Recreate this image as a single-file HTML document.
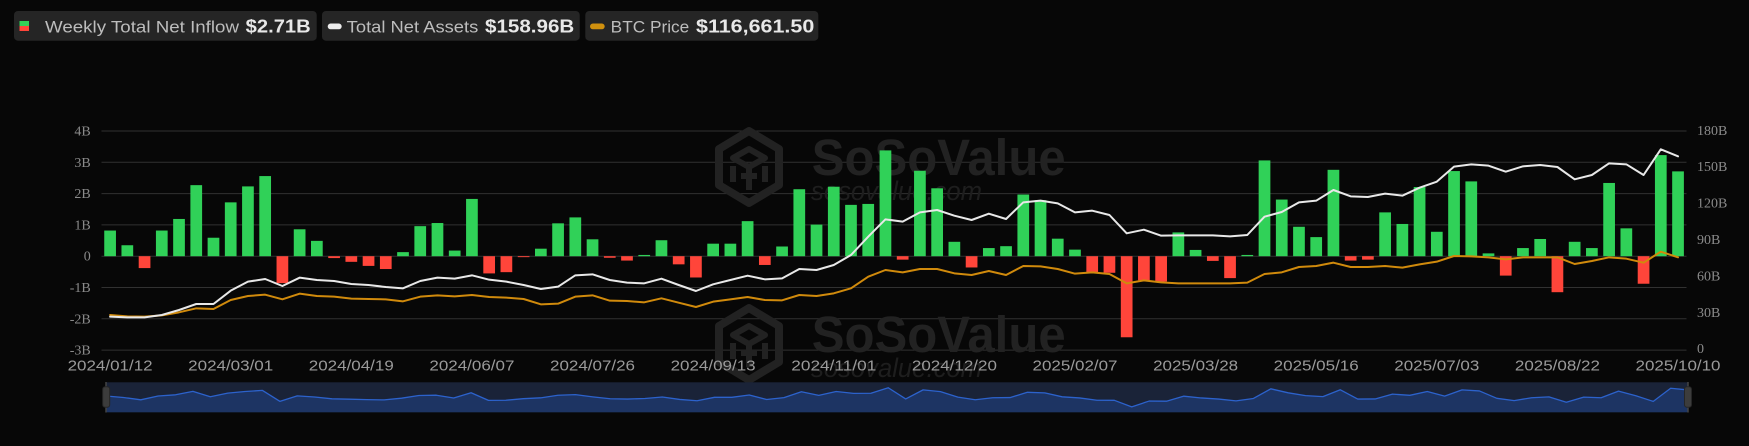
<!DOCTYPE html>
<html>
<head>
<meta charset="utf-8">
<style>
  html,body{margin:0;padding:0;background:#070707;}
  body{width:1749px;height:446px;overflow:hidden;}
  svg{display:block;}
  .hl{font-family:"Liberation Sans",sans-serif;font-size:17px;fill:#bdbdbd;}
  .hv{font-family:"Liberation Sans",sans-serif;font-size:18px;font-weight:bold;fill:#e8e8e8;}
  .yl{font-family:"Liberation Serif",serif;font-size:14px;fill:#8a8a8a;}
  .xl{font-family:"Liberation Sans",sans-serif;font-size:15px;fill:#9a9a9a;}
</style>
</head>
<body>
<svg width="1749" height="446" viewBox="0 0 1749 446" xmlns="http://www.w3.org/2000/svg">
  <rect x="0" y="0" width="1749" height="446" fill="#070707"/>

  <!-- Header legend boxes -->
  <rect x="14" y="11" width="302.7" height="29.7" rx="4" fill="#252525"/>
  <rect x="322" y="11" width="257.7" height="29.7" rx="4" fill="#252525"/>
  <rect x="585.3" y="11" width="233" height="29.7" rx="4" fill="#252525"/>

  <rect x="19.5" y="21" width="9.5" height="5" fill="#30d158"/>
  <rect x="19.5" y="26" width="9.5" height="5" fill="#ff453a"/>
  <text class="hl" x="45" y="32.3" textLength="194" lengthAdjust="spacingAndGlyphs">Weekly Total Net Inflow</text>
  <text class="hv" x="245.7" y="32.3" textLength="65" lengthAdjust="spacingAndGlyphs">$2.71B</text>

  <rect x="327.7" y="23.5" width="14" height="5.8" rx="2.9" fill="#ececec"/>
  <text class="hl" x="346.7" y="32.3" textLength="131.6" lengthAdjust="spacingAndGlyphs">Total Net Assets</text>
  <text class="hv" x="485" y="32.3" textLength="89.3" lengthAdjust="spacingAndGlyphs">$158.96B</text>

  <rect x="590" y="23.5" width="14.7" height="5.8" rx="2.9" fill="#d0900e"/>
  <text class="hl" x="610.7" y="32.3" textLength="78.6" lengthAdjust="spacingAndGlyphs">BTC Price</text>
  <text class="hv" x="696" y="32.3" textLength="118.3" lengthAdjust="spacingAndGlyphs">$116,661.50</text>

  <!-- Grid lines -->
  <g stroke="#313131" stroke-width="1">
    <line x1="101.5" y1="131" x2="1686.5" y2="131"/>
    <line x1="101.5" y1="162.3" x2="1686.5" y2="162.3"/>
    <line x1="101.5" y1="193.6" x2="1686.5" y2="193.6"/>
    <line x1="101.5" y1="224.9" x2="1686.5" y2="224.9"/>
    <line x1="101.5" y1="256.2" x2="1686.5" y2="256.2"/>
    <line x1="101.5" y1="287.5" x2="1686.5" y2="287.5"/>
    <line x1="101.5" y1="318.8" x2="1686.5" y2="318.8"/>
    <line x1="101.5" y1="350.1" x2="1686.5" y2="350.1"/>
  </g>

  <!-- Watermarks -->
  <g id="wm" fill="none" stroke="#222" stroke-linejoin="round">
    <polygon points="749,131 779,149 779,185 749,203 719,185 719,149" stroke-width="8"/>
    <path d="M733,158 L749,149 L765,158 L749,167 Z M749,167 L749,190 M733,166 L733,182 M765,166 L765,182 M741,176 L757,176" stroke-width="6"/>
    <text x="811.7" y="175" textLength="254" lengthAdjust="spacingAndGlyphs" font-family="Liberation Sans, sans-serif" font-size="51" font-weight="bold" fill="#222" stroke="none">SoSoValue</text>
    <text x="811" y="200" textLength="171" lengthAdjust="spacingAndGlyphs" font-family="Liberation Sans, sans-serif" font-size="27" font-style="italic" fill="#1e1e1e" stroke="none">sosovalue.com</text>
  </g>
  <g transform="translate(0,177)" fill="none" stroke="#222" stroke-linejoin="round">
    <polygon points="749,131 779,149 779,185 749,203 719,185 719,149" stroke-width="8"/>
    <path d="M733,158 L749,149 L765,158 L749,167 Z M749,167 L749,190 M733,166 L733,182 M765,166 L765,182 M741,176 L757,176" stroke-width="6"/>
    <text x="811.7" y="175" textLength="254" lengthAdjust="spacingAndGlyphs" font-family="Liberation Sans, sans-serif" font-size="51" font-weight="bold" fill="#222" stroke="none">SoSoValue</text>
    <text x="811" y="200" textLength="171" lengthAdjust="spacingAndGlyphs" font-family="Liberation Sans, sans-serif" font-size="27" font-style="italic" fill="#1e1e1e" stroke="none">sosovalue.com</text>
  </g>

  <!-- Bars -->
  <g transform="translate(110.1,256.2) scale(17.23,-31.3)">
    <g fill="#30d158">
      <rect x="-0.34" y="0" width="0.68" height="0.82"/>
      <rect x="0.66" y="0" width="0.68" height="0.35"/>
      <rect x="2.66" y="0" width="0.68" height="0.82"/>
      <rect x="3.66" y="0" width="0.68" height="1.19"/>
      <rect x="4.66" y="0" width="0.68" height="2.27"/>
      <rect x="5.66" y="0" width="0.68" height="0.59"/>
      <rect x="6.66" y="0" width="0.68" height="1.72"/>
      <rect x="7.66" y="0" width="0.68" height="2.23"/>
      <rect x="8.66" y="0" width="0.68" height="2.56"/>
      <rect x="10.66" y="0" width="0.68" height="0.86"/>
      <rect x="11.66" y="0" width="0.68" height="0.49"/>
      <rect x="16.66" y="0" width="0.68" height="0.13"/>
      <rect x="17.66" y="0" width="0.68" height="0.96"/>
      <rect x="18.66" y="0" width="0.68" height="1.06"/>
      <rect x="19.66" y="0" width="0.68" height="0.18"/>
      <rect x="20.66" y="0" width="0.68" height="1.83"/>
      <rect x="24.66" y="0" width="0.68" height="0.24"/>
      <rect x="25.66" y="0" width="0.68" height="1.05"/>
      <rect x="26.66" y="0" width="0.68" height="1.24"/>
      <rect x="27.66" y="0" width="0.68" height="0.54"/>
      <rect x="30.66" y="0" width="0.68" height="0.04"/>
      <rect x="31.66" y="0" width="0.68" height="0.51"/>
      <rect x="34.66" y="0" width="0.68" height="0.40"/>
      <rect x="35.66" y="0" width="0.68" height="0.40"/>
      <rect x="36.66" y="0" width="0.68" height="1.12"/>
      <rect x="38.66" y="0" width="0.68" height="0.31"/>
      <rect x="39.66" y="0" width="0.68" height="2.14"/>
      <rect x="40.66" y="0" width="0.68" height="1.01"/>
      <rect x="41.66" y="0" width="0.68" height="2.22"/>
      <rect x="42.66" y="0" width="0.68" height="1.64"/>
      <rect x="43.66" y="0" width="0.68" height="1.67"/>
      <rect x="44.66" y="0" width="0.68" height="3.38"/>
      <rect x="46.66" y="0" width="0.68" height="2.73"/>
      <rect x="47.66" y="0" width="0.68" height="2.17"/>
      <rect x="48.66" y="0" width="0.68" height="0.46"/>
      <rect x="50.66" y="0" width="0.68" height="0.26"/>
      <rect x="51.66" y="0" width="0.68" height="0.32"/>
      <rect x="52.66" y="0" width="0.68" height="1.97"/>
      <rect x="53.66" y="0" width="0.68" height="1.79"/>
      <rect x="54.66" y="0" width="0.68" height="0.56"/>
      <rect x="55.66" y="0" width="0.68" height="0.21"/>
      <rect x="61.66" y="0" width="0.68" height="0.76"/>
      <rect x="62.66" y="0" width="0.68" height="0.20"/>
      <rect x="65.66" y="0" width="0.68" height="0.04"/>
      <rect x="66.66" y="0" width="0.68" height="3.06"/>
      <rect x="67.66" y="0" width="0.68" height="1.81"/>
      <rect x="68.66" y="0" width="0.68" height="0.94"/>
      <rect x="69.66" y="0" width="0.68" height="0.61"/>
      <rect x="70.66" y="0" width="0.68" height="2.76"/>
      <rect x="73.66" y="0" width="0.68" height="1.40"/>
      <rect x="74.66" y="0" width="0.68" height="1.03"/>
      <rect x="75.66" y="0" width="0.68" height="2.21"/>
      <rect x="76.66" y="0" width="0.68" height="0.78"/>
      <rect x="77.66" y="0" width="0.68" height="2.72"/>
      <rect x="78.66" y="0" width="0.68" height="2.39"/>
      <rect x="79.66" y="0" width="0.68" height="0.09"/>
      <rect x="81.66" y="0" width="0.68" height="0.26"/>
      <rect x="82.66" y="0" width="0.68" height="0.55"/>
      <rect x="84.66" y="0" width="0.68" height="0.46"/>
      <rect x="85.66" y="0" width="0.68" height="0.26"/>
      <rect x="86.66" y="0" width="0.68" height="2.34"/>
      <rect x="87.66" y="0" width="0.68" height="0.89"/>
      <rect x="89.66" y="0" width="0.68" height="3.23"/>
      <rect x="90.66" y="0" width="0.68" height="2.71"/>
    </g>
    <g fill="#ff453a">
      <rect x="1.66" y="-0.38" width="0.68" height="0.38"/>
      <rect x="9.66" y="-0.86" width="0.68" height="0.86"/>
      <rect x="12.66" y="-0.06" width="0.68" height="0.06"/>
      <rect x="13.66" y="-0.18" width="0.68" height="0.18"/>
      <rect x="14.66" y="-0.31" width="0.68" height="0.31"/>
      <rect x="15.66" y="-0.41" width="0.68" height="0.41"/>
      <rect x="21.66" y="-0.55" width="0.68" height="0.55"/>
      <rect x="22.66" y="-0.51" width="0.68" height="0.51"/>
      <rect x="23.66" y="-0.03" width="0.68" height="0.03"/>
      <rect x="28.66" y="-0.05" width="0.68" height="0.05"/>
      <rect x="29.66" y="-0.14" width="0.68" height="0.14"/>
      <rect x="32.66" y="-0.26" width="0.68" height="0.26"/>
      <rect x="33.66" y="-0.68" width="0.68" height="0.68"/>
      <rect x="37.66" y="-0.28" width="0.68" height="0.28"/>
      <rect x="45.66" y="-0.11" width="0.68" height="0.11"/>
      <rect x="49.66" y="-0.36" width="0.68" height="0.36"/>
      <rect x="56.66" y="-0.51" width="0.68" height="0.51"/>
      <rect x="57.66" y="-0.53" width="0.68" height="0.53"/>
      <rect x="58.66" y="-2.59" width="0.68" height="2.59"/>
      <rect x="59.66" y="-0.77" width="0.68" height="0.77"/>
      <rect x="60.66" y="-0.81" width="0.68" height="0.81"/>
      <rect x="63.66" y="-0.15" width="0.68" height="0.15"/>
      <rect x="64.66" y="-0.70" width="0.68" height="0.70"/>
      <rect x="71.66" y="-0.14" width="0.68" height="0.14"/>
      <rect x="72.66" y="-0.11" width="0.68" height="0.11"/>
      <rect x="80.66" y="-0.62" width="0.68" height="0.62"/>
      <rect x="83.66" y="-1.15" width="0.68" height="1.15"/>
      <rect x="88.66" y="-0.88" width="0.68" height="0.88"/>
    </g>
  </g>

  <!-- Lines -->
  <g transform="translate(110.1,115) scale(17.23,0.333333)" fill="none" stroke-linejoin="round" stroke-linecap="round">
    <polyline vector-effect="non-scaling-stroke" stroke="#d08a0c" stroke-width="2"
      points="0,600 1,604 2,605 3,601 4,592 5,580 6,582 7,555 8,543 9,539 10,553 11,536 12,543 13,545 14,551 15,552 16,553 17,559 18,545 19,541 20,544 21,540 22,546 23,548 24,552 25,568 26,566 27,545 28,541 29,557 30,558 31,562 32,550 33,563 34,576 35,560 36,553 37,546 38,555 39,556 40,540 41,543 42,535 43,520 44,485 45,465 46,472 47,462 48,462 49,475 50,480 51,468 52,480 53,453 54,454 55,462 56,476 57,472 58,477 59,505 60,496 61,502 62,505 63,505 64,505 65,505 66,503 67,477 68,472 69,456 70,453 71,443 72,456 73,456 74,453 75,458 76,448 77,440 78,423 79,424 80,427 81,433 82,427 83,427 84,427 85,447 86,438 87,427 88,431 89,443 90,410 91,427"/>
    <polyline vector-effect="non-scaling-stroke" stroke="#e8e8e8" stroke-width="2"
      points="0,605 1,607 2,607 3,600 4,585 5,567 6,567 7,527 8,500 9,492 10,513 11,488 12,495 13,498 14,507 15,510 16,516 17,520 18,498 19,488 20,491 21,481 22,494 23,500 24,510 25,522 26,515 27,481 28,478 29,495 30,503 31,505 32,491 33,510 34,528 35,508 36,495 37,482 38,493 39,490 40,462 41,465 42,450 43,420 44,365 45,313 46,320 47,292 48,285 49,302 50,315 51,296 52,312 53,262 54,257 55,265 56,292 57,287 58,300 59,355 60,344 61,362 62,361 63,361 64,361 65,364 66,360 67,305 68,291 69,262 70,257 71,225 72,244 73,246 74,236 75,242 76,218 77,200 78,155 79,148 80,152 81,170 82,154 83,150 84,156 85,193 86,180 87,145 88,148 89,180 90,103 91,124"/>
  </g>

  <!-- Left Y axis labels -->
  <g class="yl" text-anchor="end">
    <text x="90.7" y="135.5">4B</text>
    <text x="90.7" y="166.8">3B</text>
    <text x="90.7" y="198.1">2B</text>
    <text x="90.7" y="229.4">1B</text>
    <text x="90.7" y="260.7">0</text>
    <text x="90.7" y="292">-1B</text>
    <text x="90.7" y="323.3">-2B</text>
    <text x="90.7" y="354.6">-3B</text>
  </g>
  <!-- Right Y axis labels -->
  <g class="yl">
    <text x="1697" y="134.8">180B</text>
    <text x="1697" y="171.2">150B</text>
    <text x="1697" y="207.6">120B</text>
    <text x="1697" y="244">90B</text>
    <text x="1697" y="280.4">60B</text>
    <text x="1697" y="316.8">30B</text>
    <text x="1697" y="353.2">0</text>
  </g>

  <!-- X axis labels -->
  <g class="xl" text-anchor="middle">
    <text x="110.1" y="370.5" textLength="85" lengthAdjust="spacingAndGlyphs">2024/01/12</text>
    <text x="230.7" y="370.5" textLength="85" lengthAdjust="spacingAndGlyphs">2024/03/01</text>
    <text x="351.3" y="370.5" textLength="85" lengthAdjust="spacingAndGlyphs">2024/04/19</text>
    <text x="471.9" y="370.5" textLength="85" lengthAdjust="spacingAndGlyphs">2024/06/07</text>
    <text x="592.5" y="370.5" textLength="85" lengthAdjust="spacingAndGlyphs">2024/07/26</text>
    <text x="713.1" y="370.5" textLength="85" lengthAdjust="spacingAndGlyphs">2024/09/13</text>
    <text x="833.8" y="370.5" textLength="85" lengthAdjust="spacingAndGlyphs">2024/11/01</text>
    <text x="954.4" y="370.5" textLength="85" lengthAdjust="spacingAndGlyphs">2024/12/20</text>
    <text x="1075" y="370.5" textLength="85" lengthAdjust="spacingAndGlyphs">2025/02/07</text>
    <text x="1195.6" y="370.5" textLength="85" lengthAdjust="spacingAndGlyphs">2025/03/28</text>
    <text x="1316.2" y="370.5" textLength="85" lengthAdjust="spacingAndGlyphs">2025/05/16</text>
    <text x="1436.8" y="370.5" textLength="85" lengthAdjust="spacingAndGlyphs">2025/07/03</text>
    <text x="1557.4" y="370.5" textLength="85" lengthAdjust="spacingAndGlyphs">2025/08/22</text>
    <text x="1678" y="370.5" textLength="85" lengthAdjust="spacingAndGlyphs">2025/10/10</text>
  </g>

  <!-- Data zoom slider -->
  <rect x="106" y="382.3" width="1582" height="30" fill="#1a2338"/>
  <g transform="translate(106,398.6) scale(17.385,-3.2)">
    <polygon fill="#1d3463" stroke="none"
      points="0,-4.28 0,0.82 1,0.35 2,-0.38 3,0.82 4,1.19 5,2.27 6,0.59 7,1.72 8,2.23 9,2.56 10,-0.86 11,0.86 12,0.49 13,-0.06 14,-0.18 15,-0.31 16,-0.41 17,0.13 18,0.96 19,1.06 20,0.18 21,1.83 22,-0.55 23,-0.51 24,-0.03 25,0.24 26,1.05 27,1.24 28,0.54 29,-0.05 30,-0.14 31,0.04 32,0.51 33,-0.26 34,-0.68 35,0.40 36,0.40 37,1.12 38,-0.28 39,0.31 40,2.14 41,1.01 42,2.22 43,1.64 44,1.67 45,3.38 46,-0.11 47,2.73 48,2.17 49,0.46 50,-0.36 51,0.26 52,0.32 53,1.97 54,1.79 55,0.56 56,0.21 57,-0.51 58,-0.53 59,-2.59 60,-0.77 61,-0.81 62,0.76 63,0.20 64,-0.15 65,-0.70 66,0.04 67,3.06 68,1.81 69,0.94 70,0.61 71,2.76 72,-0.14 73,-0.11 74,1.40 75,1.03 76,2.21 77,0.78 78,2.72 79,2.39 80,0.09 81,-0.62 82,0.26 83,0.55 84,-1.15 85,0.46 86,0.26 87,2.34 88,0.89 89,-0.88 90,3.23 91,2.71 91,-4.28"/>
    <polyline fill="none" stroke="#2c62cc" stroke-width="1.3" vector-effect="non-scaling-stroke" stroke-linejoin="round"
      points="0,0.82 1,0.35 2,-0.38 3,0.82 4,1.19 5,2.27 6,0.59 7,1.72 8,2.23 9,2.56 10,-0.86 11,0.86 12,0.49 13,-0.06 14,-0.18 15,-0.31 16,-0.41 17,0.13 18,0.96 19,1.06 20,0.18 21,1.83 22,-0.55 23,-0.51 24,-0.03 25,0.24 26,1.05 27,1.24 28,0.54 29,-0.05 30,-0.14 31,0.04 32,0.51 33,-0.26 34,-0.68 35,0.40 36,0.40 37,1.12 38,-0.28 39,0.31 40,2.14 41,1.01 42,2.22 43,1.64 44,1.67 45,3.38 46,-0.11 47,2.73 48,2.17 49,0.46 50,-0.36 51,0.26 52,0.32 53,1.97 54,1.79 55,0.56 56,0.21 57,-0.51 58,-0.53 59,-2.59 60,-0.77 61,-0.81 62,0.76 63,0.20 64,-0.15 65,-0.70 66,0.04 67,3.06 68,1.81 69,0.94 70,0.61 71,2.76 72,-0.14 73,-0.11 74,1.40 75,1.03 76,2.21 77,0.78 78,2.72 79,2.39 80,0.09 81,-0.62 82,0.26 83,0.55 84,-1.15 85,0.46 86,0.26 87,2.34 88,0.89 89,-0.88 90,3.23 91,2.71"/>
  </g>
  <!-- slider handles -->
  <line x1="106" y1="382" x2="106" y2="412.5" stroke="#444" stroke-width="1.5"/>
  <rect x="102.7" y="386.7" width="7" height="20.6" rx="2.5" fill="#3c3c3c" stroke="#262626" stroke-width="1"/>
  <line x1="1688" y1="382" x2="1688" y2="412.5" stroke="#444" stroke-width="1.5"/>
  <rect x="1684.5" y="386.7" width="7" height="20.6" rx="2.5" fill="#3c3c3c" stroke="#262626" stroke-width="1"/>
</svg>
</body>
</html>
